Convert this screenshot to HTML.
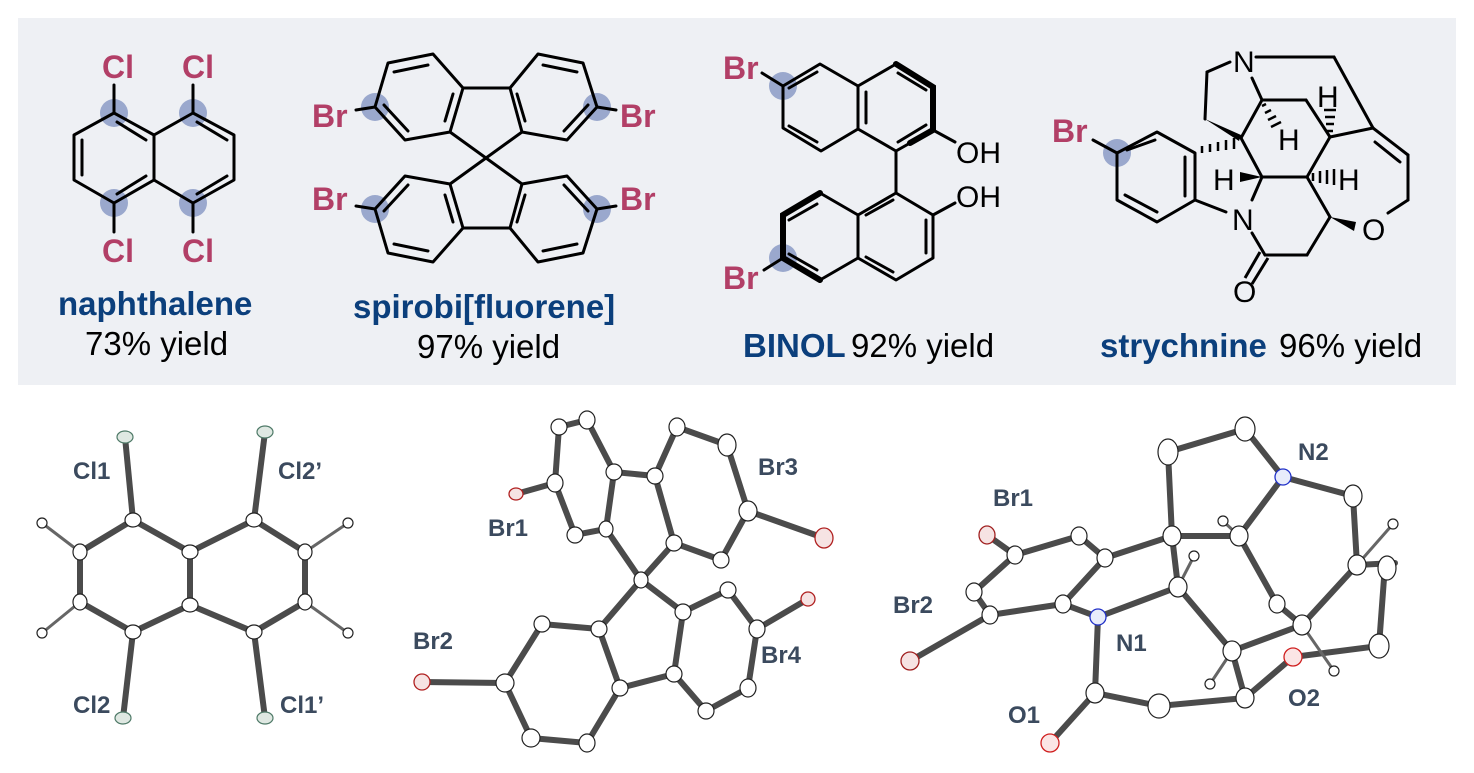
<!DOCTYPE html>
<html><head><meta charset="utf-8"><style>
body{margin:0;background:#fff}
svg{display:block}
.b{stroke:#000;stroke-width:3;fill:none;stroke-linejoin:round;stroke-linecap:round}
.lab{font-family:"Liberation Sans",sans-serif;font-size:32px;font-weight:bold;fill:#b23f67}
.blk{font-family:"Liberation Sans",sans-serif;font-size:30px;fill:#000}
.nm{font-family:"Liberation Sans",sans-serif;font-size:33px;font-weight:bold;fill:#0b3f7c}
.yl{font-family:"Liberation Sans",sans-serif;font-size:33px;fill:#000}
.dot{fill:#8b9bc6;opacity:.85}
.ob{stroke:#4b4b4b;stroke-width:6;fill:none;stroke-linecap:round}
.at{fill:#fff;stroke:#222;stroke-width:1.2}
.ol{font-family:"Liberation Sans",sans-serif;font-size:24px;font-weight:bold;fill:#3b4a5e}
</style></head><body>
<svg width="1474" height="773" viewBox="0 0 1474 773" xmlns="http://www.w3.org/2000/svg">
<rect x="18" y="18" width="1438" height="367" fill="#eef0f4"/>

<!-- naphthalene -->
<circle class="dot" cx="114" cy="113" r="14"/><circle class="dot" cx="193" cy="113" r="14"/><circle class="dot" cx="114" cy="203" r="14"/><circle class="dot" cx="193" cy="203" r="14"/>
<g class="b">
<polygon points="114,113 154,135 154,180 114,203 74,180 74,135"/>
<polyline points="154,135 193,113 234,135 234,180 193,203 154,180"/>
<line x1="82" y1="140" x2="82" y2="175"/><line x1="117" y1="122" x2="146" y2="140"/><line x1="117" y1="194" x2="146" y2="176"/>
<line x1="197" y1="122" x2="227" y2="140"/><line x1="197" y1="194" x2="227" y2="176"/>
<line x1="114" y1="113" x2="114" y2="85"/><line x1="193" y1="113" x2="193" y2="85"/>
<line x1="114" y1="203" x2="114" y2="232"/><line x1="193" y1="203" x2="193" y2="232"/>
</g>
<text class="lab" x="102" y="78">Cl</text><text class="lab" x="182" y="78">Cl</text>
<text class="lab" x="102" y="262">Cl</text><text class="lab" x="182" y="262">Cl</text>
<text class="nm" x="58" y="315">naphthalene</text><text class="yl" x="85" y="355">73% yield</text>

<!-- spirobifluorene -->
<circle class="dot" cx="375" cy="107" r="14"/><circle class="dot" cx="597" cy="107" r="14"/><circle class="dot" cx="375" cy="209" r="14"/><circle class="dot" cx="597" cy="209" r="14"/>
<g class="b">
<polygon points="433,54 388,63 375,107 405,140 450,132 463,88"/>
<polygon points="538,54 583,63 597,107 567,140 522,132 510,88"/>
<polygon points="433,262 388,253 375,209 405,176 450,184 463,228"/>
<polygon points="538,262 583,253 597,209 567,176 522,184 510,228"/>
<line x1="463" y1="88" x2="510" y2="88"/><line x1="463" y1="228" x2="510" y2="228"/>
<line x1="450" y1="132" x2="522" y2="184"/><line x1="522" y1="132" x2="450" y2="184"/>
<line x1="394" y1="72" x2="428" y2="65"/><line x1="445" y1="121" x2="453" y2="94"/><line x1="384" y1="105" x2="408" y2="131"/>
<line x1="543" y1="65" x2="577" y2="72"/><line x1="525" y1="121" x2="517" y2="94"/><line x1="588" y1="105" x2="564" y2="131"/>
<line x1="394" y1="244" x2="428" y2="251"/><line x1="445" y1="195" x2="453" y2="222"/><line x1="384" y1="211" x2="408" y2="185"/>
<line x1="543" y1="251" x2="577" y2="244"/><line x1="525" y1="195" x2="517" y2="222"/><line x1="588" y1="211" x2="564" y2="185"/>
<line x1="375" y1="107" x2="356" y2="110"/><line x1="597" y1="107" x2="616" y2="110"/>
<line x1="375" y1="209" x2="356" y2="206"/><line x1="597" y1="209" x2="616" y2="206"/>
</g>
<text class="lab" x="312" y="127">Br</text><text class="lab" x="620" y="127">Br</text>
<text class="lab" x="312" y="210">Br</text><text class="lab" x="620" y="210">Br</text>
<text class="nm" x="353" y="318">spirobi[fluorene]</text><text class="yl" x="417" y="358">97% yield</text>

<!-- BINOL -->
<circle class="dot" cx="783" cy="86" r="14"/><circle class="dot" cx="783" cy="258" r="14"/>
<g class="b">
<polygon points="820,64 783,86 783,128 821,151 858,129 858,86"/>
<polyline points="858,86 896,64 933,87 933,130 896,151 858,129"/>
<polygon points="896,193 933,215 933,258 896,280 858,258 858,215"/>
<polyline points="858,215 820,193 783,215 783,258 820,280 858,258"/>
<line x1="789" y1="88" x2="817" y2="72"/><line x1="789" y1="126" x2="817" y2="142"/><line x1="866" y1="92" x2="866" y2="123"/>
<line x1="898" y1="73" x2="926" y2="90"/><line x1="898" y1="142" x2="926" y2="125"/>
<line x1="789" y1="220" x2="817" y2="204"/><line x1="789" y1="254" x2="817" y2="270"/>
<line x1="866" y1="215" x2="893" y2="200"/><line x1="926" y1="220" x2="926" y2="253"/><line x1="866" y1="257" x2="893" y2="272"/>
<line x1="896" y1="151" x2="896" y2="193"/>
<line x1="933" y1="130" x2="955" y2="142"/><line x1="933" y1="215" x2="955" y2="203"/>
<line x1="783" y1="86" x2="762" y2="73"/><line x1="783" y1="258" x2="764" y2="270"/>
</g>
<g stroke="#000" stroke-width="6" stroke-linecap="round" fill="none">
<polyline points="896,64 933,87 933,130 910,143"/>
<polyline points="820,193 783,215 783,258 820,280"/>
</g>
<text class="lab" x="723" y="79">Br</text><text class="lab" x="723" y="289">Br</text>
<text class="blk" x="956" y="163">OH</text><text class="blk" x="956" y="207">OH</text>
<text class="nm" x="743" y="357">BINOL</text><text class="yl" x="851" y="357">92% yield</text>

<!-- strychnine -->
<circle class="dot" cx="1117" cy="153" r="14"/>
<g class="b">
<polygon points="1117,153 1157,132 1195,153 1195,200 1157,222 1117,200"/>
<line x1="1125" y1="195" x2="1157" y2="212"/><line x1="1185" y1="157" x2="1185" y2="196"/><line x1="1127" y1="150" x2="1155" y2="140"/>
<line x1="1117" y1="153" x2="1093" y2="140"/>
<line x1="1230" y1="62" x2="1207" y2="72"/><line x1="1207" y1="72" x2="1205" y2="119"/>
<line x1="1256" y1="57" x2="1334" y2="57"/><line x1="1334" y1="57" x2="1373" y2="128"/>
<line x1="1252" y1="78" x2="1262" y2="100"/><line x1="1262" y1="100" x2="1306" y2="100"/>
<line x1="1262" y1="100" x2="1241" y2="138"/><line x1="1306" y1="100" x2="1330" y2="137"/>
<line x1="1330" y1="137" x2="1373" y2="128"/><line x1="1373" y1="128" x2="1408" y2="155"/><line x1="1375" y1="142" x2="1400" y2="162"/>
<line x1="1408" y1="155" x2="1408" y2="200"/><line x1="1408" y1="200" x2="1388" y2="213"/>
<line x1="1241" y1="138" x2="1262" y2="177"/><line x1="1262" y1="177" x2="1307" y2="177"/>
<line x1="1307" y1="177" x2="1330" y2="137"/><line x1="1307" y1="177" x2="1330" y2="217"/>
<line x1="1262" y1="177" x2="1252" y2="200"/><line x1="1195" y1="200" x2="1226" y2="212"/>
<line x1="1252" y1="233" x2="1265" y2="255"/><line x1="1265" y1="255" x2="1307" y2="255"/><line x1="1307" y1="255" x2="1330" y2="217"/>
</g>
<line x1="1268" y1="258" x2="1252" y2="284" stroke="#000" stroke-width="3"/><line x1="1260" y1="252" x2="1245" y2="278" stroke="#000" stroke-width="3"/>
<polygon points="1205,119 1241,135 1239,141" fill="#000"/>
<polygon points="1262,177 1240,172 1240,182" fill="#000"/>
<polygon points="1330,217 1356,222 1354,231" fill="#000"/>
<g stroke="#000" stroke-width="2.5">
<line x1="1202" y1="146" x2="1202" y2="153"/><line x1="1210" y1="144" x2="1210" y2="152"/><line x1="1218" y1="142" x2="1218" y2="151"/><line x1="1226" y1="140" x2="1226" y2="150"/><line x1="1234" y1="138" x2="1234" y2="149"/>
<line x1="1266" y1="104" x2="1262" y2="106"/><line x1="1271" y1="110" x2="1265" y2="113"/><line x1="1276" y1="116" x2="1268" y2="120"/><line x1="1281" y1="122" x2="1271" y2="127"/>
<line x1="1327" y1="131" x2="1333" y2="131"/><line x1="1326" y1="124" x2="1334" y2="124"/><line x1="1325" y1="117" x2="1335" y2="117"/><line x1="1324" y1="110" x2="1336" y2="110"/>
<line x1="1313" y1="173" x2="1313" y2="181"/><line x1="1320" y1="171" x2="1320" y2="183"/><line x1="1327" y1="170" x2="1327" y2="184"/><line x1="1334" y1="169" x2="1334" y2="185"/>
</g>
<text class="lab" x="1052" y="142">Br</text>
<text class="blk" x="1233" y="72">N</text><text class="blk" x="1232" y="230">N</text>
<text class="blk" x="1362" y="240">O</text><text class="blk" x="1233" y="302">O</text>
<text class="blk" x="1317" y="107">H</text><text class="blk" x="1278" y="150">H</text>
<text class="blk" x="1213" y="190">H</text><text class="blk" x="1338" y="190">H</text>
<text class="nm" x="1100" y="357">strychnine</text><text class="yl" x="1279" y="357">96% yield</text>

<!-- ORTEP naphthalene -->
<g class="ob">
<polyline points="133,520 80,552 80,602 133,632 190,605 190,552 133,520"/>
<polyline points="254,520 305,552 305,602 254,632 190,605"/><line x1="190" y1="552" x2="254" y2="520"/>
<line x1="133" y1="520" x2="125" y2="437"/><line x1="254" y1="520" x2="265" y2="432"/>
<line x1="133" y1="632" x2="123" y2="718"/><line x1="254" y1="632" x2="265" y2="718"/>
</g>
<g stroke="#666" stroke-width="3"><line x1="80" y1="552" x2="42" y2="523"/><line x1="80" y1="602" x2="42" y2="633"/><line x1="305" y1="552" x2="348" y2="523"/><line x1="305" y1="602" x2="348" y2="633"/></g>
<g class="at">
<ellipse cx="133" cy="520" rx="8" ry="7"/><ellipse cx="80" cy="552" rx="7" ry="8"/><ellipse cx="80" cy="602" rx="7" ry="8"/><ellipse cx="133" cy="632" rx="8" ry="7"/><ellipse cx="190" cy="552" rx="8" ry="7"/><ellipse cx="190" cy="605" rx="8" ry="7"/><ellipse cx="254" cy="520" rx="8" ry="7"/><ellipse cx="305" cy="552" rx="7" ry="8"/><ellipse cx="305" cy="602" rx="7" ry="8"/><ellipse cx="254" cy="632" rx="8" ry="7"/>
<circle cx="42" cy="523" r="5"/><circle cx="42" cy="633" r="5"/><circle cx="348" cy="523" r="5"/><circle cx="348" cy="633" r="5"/>
</g>
<g fill="#dfe8e2" stroke="#4f7a68" stroke-width="1.2"><ellipse cx="125" cy="437" rx="8" ry="6"/><ellipse cx="265" cy="432" rx="8" ry="6"/><ellipse cx="123" cy="718" rx="8" ry="6"/><ellipse cx="265" cy="718" rx="8" ry="6"/></g>
<text class="ol" x="73" y="479">Cl1</text><text class="ol" x="278" y="479">Cl2’</text>
<text class="ol" x="73" y="713">Cl2</text><text class="ol" x="280" y="713">Cl1’</text>

<!-- ORTEP spirobifluorene -->
<g class="ob">
<polyline points="587,420 559,427 555,483 575,535 606,529 614,472 587,420"/>
<polyline points="655,476 677,427 727,445 748,511 721,560 674,543 655,476"/>
<line x1="614" y1="472" x2="655" y2="476"/><line x1="606" y1="529" x2="641" y2="580"/><line x1="674" y1="543" x2="641" y2="580"/>
<polyline points="599,629 542,624 505,683 531,738 587,743 620,688 599,629"/>
<polyline points="674,674 683,612 728,590 757,629 748,688 706,711 674,674"/>
<line x1="620" y1="688" x2="674" y2="674"/><line x1="641" y1="580" x2="599" y2="629"/><line x1="641" y1="580" x2="683" y2="612"/>
<line x1="555" y1="483" x2="516" y2="494"/><line x1="748" y1="511" x2="824" y2="538"/><line x1="505" y1="683" x2="422" y2="682"/><line x1="757" y1="629" x2="808" y2="599"/>
</g>
<g class="at">
<ellipse cx="587" cy="420" rx="8" ry="9"/><ellipse cx="559" cy="427" rx="8" ry="8"/><ellipse cx="555" cy="483" rx="8" ry="9"/><ellipse cx="575" cy="535" rx="8" ry="8"/><ellipse cx="606" cy="529" rx="7" ry="8"/><ellipse cx="614" cy="472" rx="8" ry="8"/>
<ellipse cx="655" cy="476" rx="8" ry="8"/><ellipse cx="677" cy="427" rx="8" ry="9"/><ellipse cx="727" cy="445" rx="9" ry="11"/><ellipse cx="748" cy="511" rx="9" ry="10"/><ellipse cx="721" cy="560" rx="8" ry="8"/><ellipse cx="674" cy="543" rx="8" ry="8"/>
<ellipse cx="641" cy="580" rx="7" ry="8"/>
<ellipse cx="599" cy="629" rx="8" ry="8"/><ellipse cx="542" cy="624" rx="8" ry="8"/><ellipse cx="505" cy="683" rx="9" ry="9"/><ellipse cx="531" cy="738" rx="9" ry="9"/><ellipse cx="587" cy="743" rx="8" ry="9"/><ellipse cx="620" cy="688" rx="8" ry="8"/>
<ellipse cx="674" cy="674" rx="8" ry="8"/><ellipse cx="683" cy="612" rx="8" ry="8"/><ellipse cx="728" cy="590" rx="8" ry="8"/><ellipse cx="757" cy="629" rx="8" ry="9"/><ellipse cx="748" cy="688" rx="8" ry="9"/><ellipse cx="706" cy="711" rx="8" ry="8"/>
</g>
<g fill="#f6e3e3" stroke="#b02020" stroke-width="1.3"><ellipse cx="516" cy="494" rx="7" ry="6"/><ellipse cx="824" cy="538" rx="9" ry="10"/><ellipse cx="422" cy="682" rx="8" ry="8"/><ellipse cx="808" cy="599" rx="7" ry="7"/></g>
<text class="ol" x="488" y="536">Br1</text><text class="ol" x="758" y="475">Br3</text>
<text class="ol" x="413" y="649">Br2</text><text class="ol" x="761" y="663">Br4</text>

<!-- ORTEP strychnine -->
<g class="ob">
<polyline points="1172,536 1168,452 1245,429 1283,477 1353,496 1357,565 1302,625 1277,604 1239,536 1283,477"/>
<line x1="1239" y1="536" x2="1172" y2="536"/>
<polyline points="1357,565 1395,563"/><polyline points="1385,565 1379,646 1293,657 1245,698 1159,706 1095,693 1098,617 1063,604 990,615 974,592 1015,555 1079,536 1105,558 1063,604"/>
<line x1="1105" y1="558" x2="1172" y2="536"/><line x1="1098" y1="617" x2="1178" y2="587"/><line x1="1178" y1="587" x2="1172" y2="536"/>
<line x1="1178" y1="587" x2="1232" y2="651"/><line x1="1232" y1="651" x2="1302" y2="625"/><line x1="1232" y1="651" x2="1245" y2="698"/>
<line x1="1095" y1="693" x2="1050" y2="743"/><line x1="1015" y1="555" x2="987" y2="535"/><line x1="990" y1="615" x2="910" y2="661"/>
</g>
<g stroke="#666" stroke-width="3"><line x1="1239" y1="536" x2="1223" y2="521"/><line x1="1178" y1="587" x2="1194" y2="556"/><line x1="1232" y1="651" x2="1210" y2="684"/><line x1="1302" y1="625" x2="1334" y2="671"/><line x1="1357" y1="565" x2="1393" y2="524"/></g>
<g class="at">
<ellipse cx="1168" cy="452" rx="10" ry="13"/><ellipse cx="1245" cy="429" rx="10" ry="12"/><ellipse cx="1353" cy="496" rx="9" ry="11"/><ellipse cx="1357" cy="565" rx="9" ry="10"/><ellipse cx="1387" cy="568" rx="9" ry="12"/><ellipse cx="1379" cy="646" rx="10" ry="12"/>
<ellipse cx="1302" cy="625" rx="9" ry="10"/><ellipse cx="1277" cy="604" rx="8" ry="9"/><ellipse cx="1239" cy="536" rx="9" ry="10"/><ellipse cx="1172" cy="536" rx="9" ry="10"/>
<ellipse cx="1105" cy="558" rx="8" ry="9"/><ellipse cx="1079" cy="536" rx="8" ry="9"/><ellipse cx="1015" cy="555" rx="8" ry="9"/><ellipse cx="974" cy="592" rx="8" ry="9"/><ellipse cx="990" cy="615" rx="8" ry="9"/><ellipse cx="1063" cy="604" rx="8" ry="9"/>
<ellipse cx="1178" cy="587" rx="9" ry="10"/><ellipse cx="1232" cy="651" rx="9" ry="10"/><ellipse cx="1245" cy="698" rx="9" ry="10"/><ellipse cx="1159" cy="706" rx="11" ry="12"/><ellipse cx="1095" cy="693" rx="9" ry="10"/>
<circle cx="1223" cy="521" r="5"/><circle cx="1194" cy="556" r="5"/><circle cx="1210" cy="684" r="5"/><circle cx="1334" cy="671" r="5"/><circle cx="1393" cy="524" r="5"/>
</g>
<g fill="#e8ecfb" stroke="#2030c8" stroke-width="1.3"><ellipse cx="1283" cy="477" rx="8" ry="8"/><ellipse cx="1098" cy="617" rx="8" ry="8"/></g>
<g fill="#fbe5e5" stroke="#d02020" stroke-width="1.3"><ellipse cx="1293" cy="657" rx="9" ry="9"/><ellipse cx="1050" cy="743" rx="9" ry="9"/></g>
<g fill="#f6e3e3" stroke="#a02020" stroke-width="1.3"><ellipse cx="987" cy="535" rx="8" ry="9"/><ellipse cx="910" cy="661" rx="9" ry="9"/></g>
<text class="ol" x="993" y="506">Br1</text><text class="ol" x="893" y="613">Br2</text>
<text class="ol" x="1298" y="460">N2</text><text class="ol" x="1116" y="651">N1</text>
<text class="ol" x="1008" y="723">O1</text><text class="ol" x="1288" y="706">O2</text>
</svg>
</body></html>
